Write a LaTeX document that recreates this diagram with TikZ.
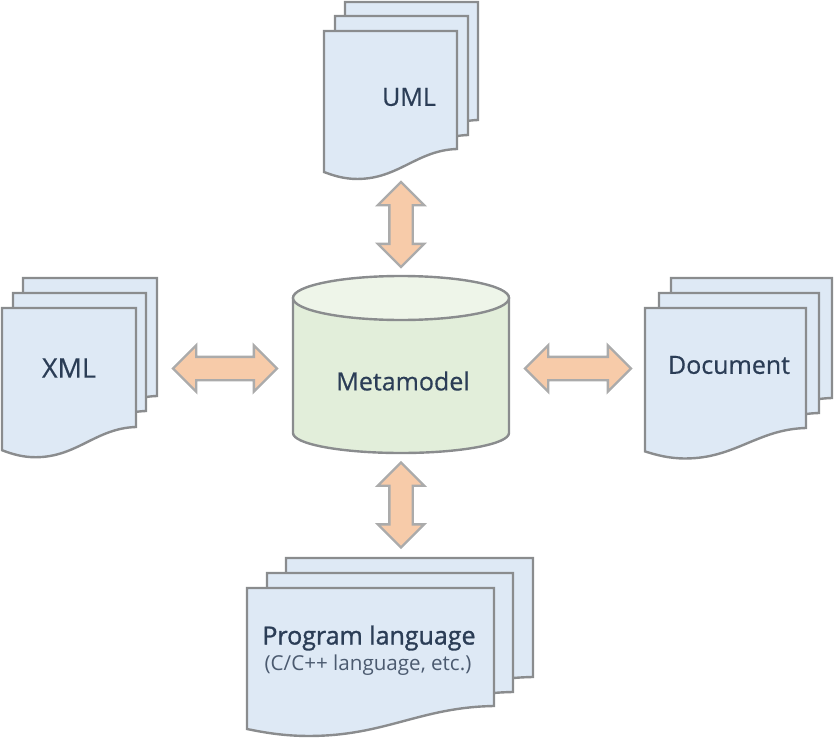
\documentclass[tikz,border=0pt]{standalone}
\usepackage{fontspec}
\setmainfont{Open Sans}
\usetikzlibrary{shapes.arrows}
\definecolor{pagefill}{HTML}{DEE9F5}
\definecolor{edgegray}{HTML}{8A8C8E}
\definecolor{arrowfill}{HTML}{F7CBA9}
\definecolor{arrowedge}{HTML}{ABABAB}
\definecolor{cylfill}{HTML}{E2EEDA}
\definecolor{cyltop}{HTML}{EEF5E9}
\definecolor{inkblue}{HTML}{2B3D56}
\tikzset{
  pagesheet/.style={draw=edgegray,fill=pagefill,line width=2.4pt,line join=miter},
  dblarrow/.style={shape=double arrow,draw=arrowedge,fill=arrowfill,line width=2.4pt,
    inner sep=10.5pt,double arrow head extend=11.5pt,double arrow tip angle=90,
    double arrow head indent=0pt,minimum height=#1,anchor=center},
  maintext/.style={text=inkblue,font=\fontsize{25}{28}\selectfont\addfontfeature{FakeBold=0.5},inner sep=0pt},
  boldtext/.style={text=inkblue,font=\fontsize{25}{28}\selectfont\addfontfeature{FakeBold=1.2},inner sep=0pt},
  subtext/.style={text=inkblue!85,font=\fontsize{20.6}{24}\selectfont,inner sep=0pt}
}
% #1 left, #2 top, #3 width, #4 height at right edge
\newcommand{\docsheet}[4]{%
  \pgfmathsetmacro{\shR}{#1+#3}%
  \pgfmathsetmacro{\shB}{#2+#4}%
  \pgfmathsetmacro{\shCax}{\shR-0.30*#3}%
  \pgfmathsetmacro{\shCay}{\shB+0.01*#4}%
  \pgfmathsetmacro{\shCbx}{\shR-0.44*#3}%
  \pgfmathsetmacro{\shCby}{\shB+0.254*#4}%
  \pgfmathsetmacro{\shMx}{#1+0.25*#3}%
  \pgfmathsetmacro{\shDax}{#1+0.15*#3}%
  \pgfmathsetmacro{\shDbx}{#1+0.07*#3}%
  \pgfmathsetmacro{\shDby}{\shB+0.225*#4}%
  \pgfmathsetmacro{\shLy}{\shB+0.195*#4}%
  \draw[pagesheet] (#1,#2) -- (\shR,#2) -- (\shR,\shB)
    .. controls (\shCax,\shCay) and (\shCbx,\shCby) .. (\shMx,\shCby)
    .. controls (\shDax,\shCby) and (\shDbx,\shDby) .. (#1,\shLy)
    -- cycle;}
\begin{document}
\begin{tikzpicture}[x=1pt,y=-1pt]
\useasboundingbox (0,0) rectangle (834,738);
% UML
\docsheet{345}{2}{133}{118}
\docsheet{335}{16}{133}{119}
\docsheet{324}{31}{133}{118}
% XML
\docsheet{23}{278}{134}{118}
\docsheet{13}{293}{133}{118}
\docsheet{2}{308}{134}{119}
% Document
\docsheet{671}{278}{161}{120}
\docsheet{659}{293}{160}{120}
\docsheet{645}{308}{161}{120}
% Program
\docsheet{286}{558}{247}{119}
\docsheet{267}{573}{246}{119}
\docsheet{247}{588}{247}{118}
% Cylinder
\draw[draw=edgegray,fill=cylfill,line width=2.4pt] (293,298) -- (293,433)
  arc[start angle=180,end angle=360,x radius=108,y radius=-20] -- (509,298)
  arc[start angle=0,end angle=180,x radius=108,y radius=-21] -- cycle;
\draw[draw=edgegray,fill=cyltop,line width=2.4pt] (401,298) ellipse[x radius=108,y radius=22];
% Labels
\node[maintext] (uml) at (409,97) {UML};
\node[maintext,font=\fontsize{27}{30}\selectfont\addfontfeature{FakeBold=0.5}] (xml) at (69,368) {XML};
\node[maintext] (doc) at (729,365) {Document};
\node[maintext] (meta) at (403,381) {Metamodel};
\node[boldtext] (prog) at (369,638) {Program language};
\node[subtext] (progsub) at (368,665) {(C/C++ language, etc.)};
% Arrows
\node[dblarrow=85pt,rotate=90] (aup) at (401,224.5) {};
\node[dblarrow=85pt,rotate=90] (adown) at (401,505) {};
\node[dblarrow=104pt] (aleft) at (225,368.5) {};
\node[dblarrow=106pt] (aright) at (578,368.5) {};
\end{tikzpicture}
\end{document}
